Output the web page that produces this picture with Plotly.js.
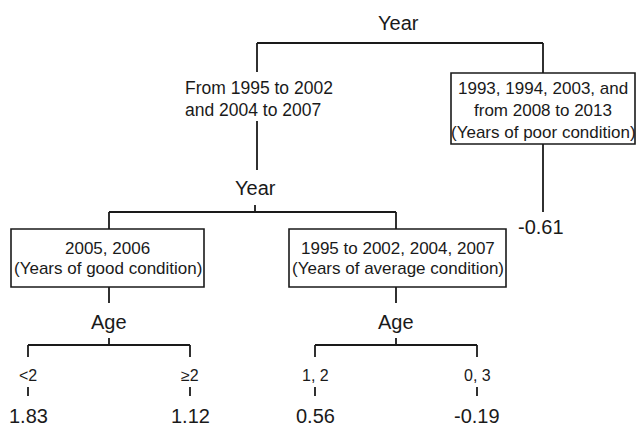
<!DOCTYPE html>
<html>
<head>
<meta charset="utf-8">
<script src="https://cdn.plot.ly/plotly-3.0.1.min.js"></script>
<style>html,body{margin:0;padding:0;background:#fff;}#chart{width:636px;height:426px;}</style>
</head>
<body>
<div id="chart"></div>
<script>
// ---------------- DATA ----------------
const rootSplit = "Year";
const level1LeftLabel = ["From 1995 to 2002", "and 2004 to 2007"];
const level1RightLabel = ["1993, 1994, 2003, and", "from 2008 to 2013", "(Years of poor condition)"];
const level1RightValue = -0.61;
const level2Split = "Year";
const level2Labels = [
  ["2005, 2006", "(Years of good condition)"],
  ["1995 to 2002, 2004, 2007", "(Years of average condition)"]
];
const level3Splits = ["Age", "Age"];
const leafLabels = ["<2", "\u22652", "1, 2", "0, 3"];
const leafValues = [1.83, 1.12, 0.56, -0.19];

// ---------------- LAYOUT (pixel-like coordinates, y downward) ----------------
const P = {
  root: {x: 398, y: 23},
  rootBarY: 43, rootL: 257, rootR: 543,
  leftDropEnd: 72,
  leftText: {x: 183, ys: [88, 110]},
  leftCont: {y0: 121, y1: 170},
  rBox: {x0: 451, x1: 635, y0: 73, y1: 144, ys: [88, 110, 132]},
  rDropEnd: 212, rVal: {x: 541, y: 227},
  y2: {x: 255, y: 188, tick0: 205, bar: 212},
  l2x: [109, 396],
  box2: [{x0: 11, x1: 204}, {x0: 289, x1: 506}],
  box2y0: 229, box2y1: 287, box2ys: [248, 268],
  dropEnd2: 303,
  ageY: 322, ageTick0: 338, ageBar: 345, ageDropEnd: 357,
  leafX: [28, 190, 315, 477],
  leafLabY: 375, leafTick0: 387, leafTick1: 396, leafValY: 416
};

const FONT = "Liberation Sans, Arial, Helvetica, sans-serif";
const INK = "#1a1a1a";

// ---------------- BUILD ----------------
const xs = [], ys = [];
function seg(x0, y0, x1, y1) { xs.push(x0, x1, null); ys.push(y0, y1, null); }

// root
seg(P.rootL, P.rootBarY, P.rootR, P.rootBarY);
seg(P.rootL, P.rootBarY, P.rootL, P.leftDropEnd);
seg(P.rootR, P.rootBarY, P.rootR, P.rBox.y0);
seg(P.rootL, P.leftCont.y0, P.rootL, P.leftCont.y1);
seg(P.rootR, P.rBox.y1, P.rootR, P.rDropEnd);
// level 2
seg(P.y2.x, P.y2.tick0, P.y2.x, P.y2.bar);
seg(P.l2x[0], P.y2.bar, P.l2x[1], P.y2.bar);
P.l2x.forEach(x => { seg(x, P.y2.bar, x, P.box2y0); seg(x, P.box2y1, x, P.dropEnd2); });
// level 3
for (let i = 0; i < 2; i++) {
  const cx = P.l2x[i];
  const lx = P.leafX[2*i], rx = P.leafX[2*i+1];
  seg(cx, P.ageTick0, cx, P.ageBar);
  seg(lx, P.ageBar, rx, P.ageBar);
  seg(lx, P.ageBar, lx, P.ageDropEnd);
  seg(rx, P.ageBar, rx, P.ageDropEnd);
}
P.leafX.forEach(x => seg(x, P.leafTick0, x, P.leafTick1));

const trace = {x: xs, y: ys, mode: "lines", type: "scatter",
  line: {color: INK, width: 1.8}, hoverinfo: "skip", showlegend: false};

const ann = [];
function txt(x, y, s, size, anchor) {
  ann.push({x: x, y: y, xref: "x", yref: "y", text: s, showarrow: false,
    xanchor: anchor || "center", yanchor: "middle",
    font: {family: FONT, size: size, color: INK}});
}
txt(P.root.x, P.root.y, rootSplit, 20);
level1LeftLabel.forEach((s, i) => txt(P.leftText.x, P.leftText.ys[i], s, 17.5, "left"));
level1RightLabel.forEach((s, i) => txt((P.rBox.x0 + P.rBox.x1) / 2, P.rBox.ys[i], s, 17));
txt(P.rVal.x, P.rVal.y, level1RightValue.toFixed(2), 20);
txt(P.y2.x, P.y2.y, level2Split, 20);
level2Labels.forEach((lines, b) => {
  const cx = (P.box2[b].x0 + P.box2[b].x1) / 2;
  lines.forEach((s, i) => txt(cx, P.box2ys[i], s, 17));
  txt(P.l2x[b], P.ageY, level3Splits[b], 20);
});
leafLabels.forEach((s, i) => txt(P.leafX[i], P.leafLabY, s, 16));
leafValues.forEach((v, i) => txt(P.leafX[i], P.leafValY, v.toFixed(2), 20));

const shapes = [];
function rect(x0, y0, x1, y1) {
  shapes.push({type: "rect", xref: "x", yref: "y", x0: x0, y0: y0, x1: x1, y1: y1,
    line: {color: INK, width: 1.6}, fillcolor: "rgba(0,0,0,0)", layer: "above"});
}
rect(P.rBox.x0, P.rBox.y0, P.rBox.x1, P.rBox.y1);
P.box2.forEach(b => rect(b.x0, P.box2y0, b.x1, P.box2y1));

const layout = {
  width: 636, height: 426,
  margin: {l: 0, r: 0, t: 0, b: 0},
  paper_bgcolor: "#fff", plot_bgcolor: "#fff",
  xaxis: {range: [0, 636], visible: false, fixedrange: true},
  yaxis: {range: [426, 0], visible: false, fixedrange: true},
  annotations: ann, shapes: shapes, showlegend: false
};
Plotly.newPlot("chart", [trace], layout, {displayModeBar: false, staticPlot: true});
</script>
</body>
</html>
